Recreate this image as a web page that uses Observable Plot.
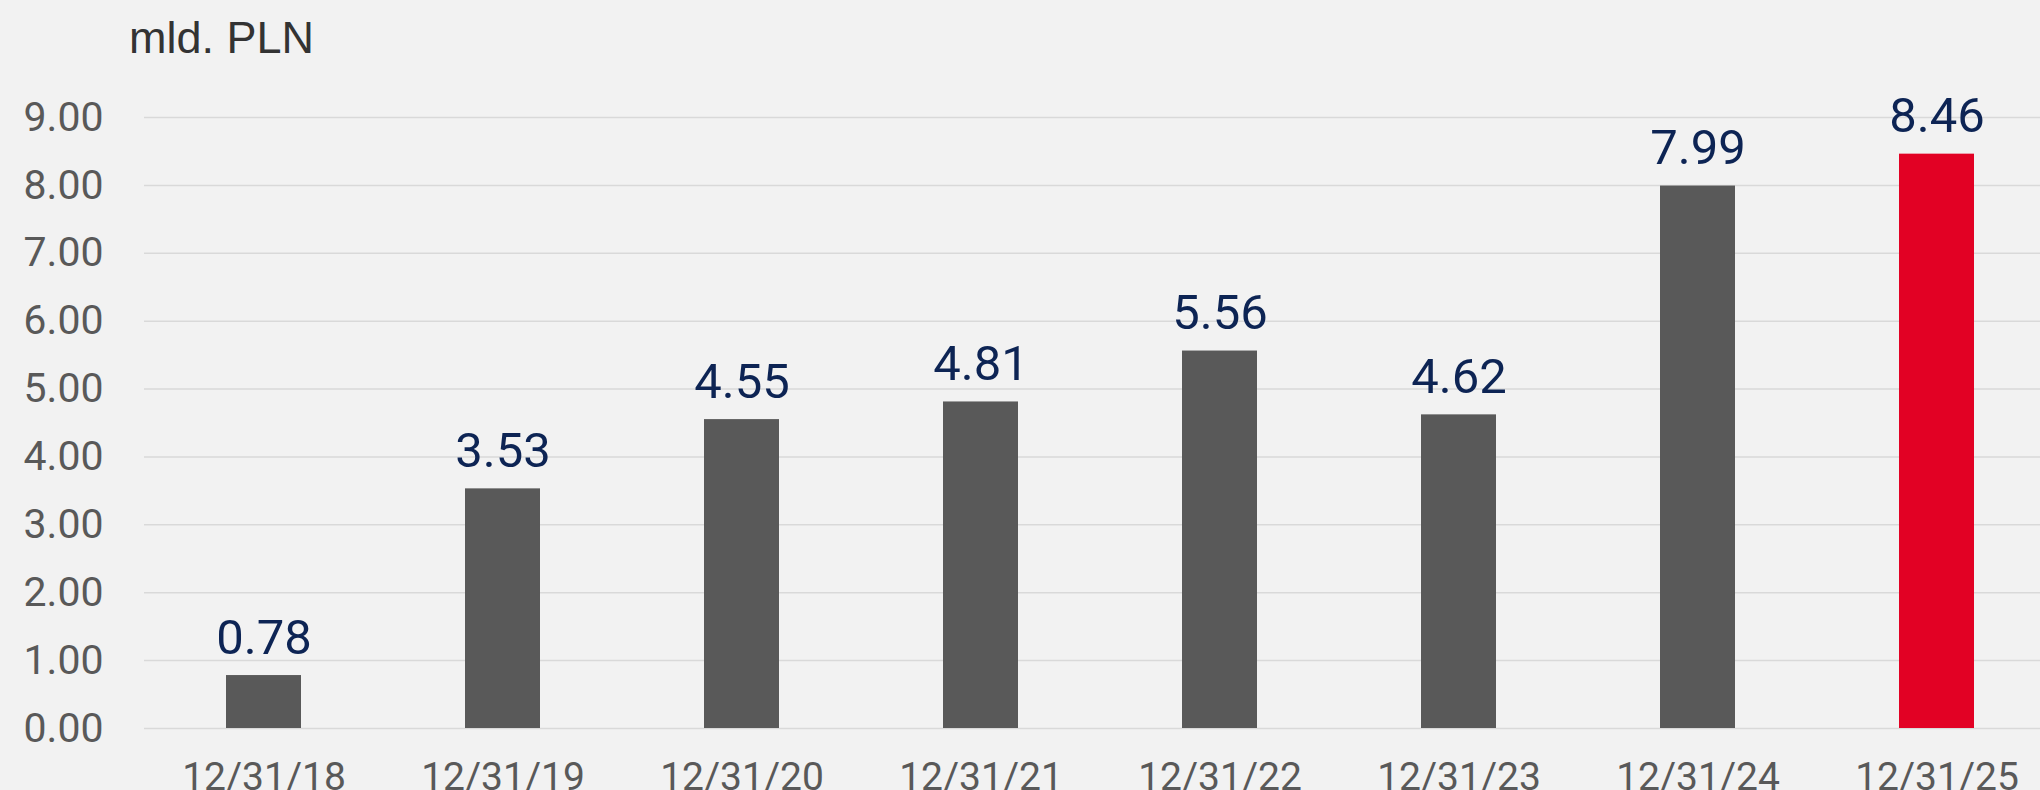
<!DOCTYPE html>
<html>
<head>
<meta charset="utf-8">
<script src="https://cdn.jsdelivr.net/npm/d3@7"></script>
<script src="https://cdn.jsdelivr.net/npm/@observablehq/plot@0.6"></script>
<style>
  html, body { margin: 0; padding: 0; background: #f2f2f2; overflow: hidden; }
  #wrap { width: 2040px; height: 790px; background: #f2f2f2; }
  #title { height: 70px; box-sizing: border-box; padding-top: 15px; padding-left: 129px;
           font-family: "Liberation Sans", Arial, sans-serif; font-size: 45px; line-height: 45px;
           color: #333333; }
  svg { display: block; }
</style>
</head>
<body>
<div id="wrap">
  <div id="title">mld. PLN</div>
  <div id="chart"></div>
</div>
<script>
const dates = ["12/31/18", "12/31/19", "12/31/20", "12/31/21", "12/31/22", "12/31/23", "12/31/24", "12/31/25"];
const values = [0.78, 3.53, 4.55, 4.81, 5.56, 4.62, 7.99, 8.46];
const highlight = [false, false, false, false, false, false, false, true];
const yTicks = [0, 1, 2, 3, 4, 5, 6, 7, 8, 9];

const data = dates.map((d, i) => ({date: d, value: values[i], hl: highlight[i]}));

const chart = Plot.plot({
  width: 2040,
  height: 720,
  marginLeft: 144,
  marginRight: 0,
  marginTop: 47,
  marginBottom: 62,
  style: {background: "#f2f2f2", fontFamily: "Roboto, sans-serif", overflow: "visible"},
  x: {domain: dates, range: [144, 2056], paddingInner: 0.686, paddingOuter: 0.343, label: null},
  y: {domain: [0, 9], label: null},
  marks: [
    Plot.ruleY(yTicks, {stroke: "#d9d9d9", strokeWidth: 1.5}),
    Plot.barY(data, {x: "date", y: "value", fill: d => d.hl ? "#e20124" : "#595959"}),
    Plot.text(data, {x: "date", y: "value", text: d => d.value.toFixed(2), dy: -22,
      lineAnchor: "bottom", fontSize: 49, fill: "#0d2454", fontFamily: "Roboto, sans-serif"}),
    Plot.axisY({ticks: yTicks, tickFormat: d => d.toFixed(2), tickSize: 0, tickPadding: 41,
      fontSize: 41, color: "#595959", label: null}),
    Plot.axisX({tickSize: 0, tickPadding: 34, fontSize: 39, color: "#595959", label: null})
  ]
});
document.getElementById("chart").appendChild(chart);
</script>
</body>
</html>
